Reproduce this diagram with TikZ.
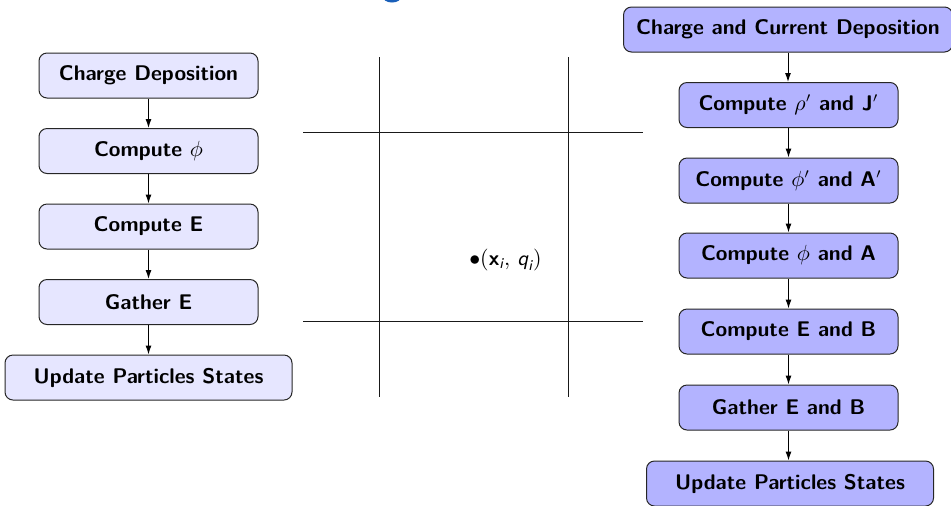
\documentclass[tikz,border=0pt]{standalone}
\usepackage{amsmath}
\usetikzlibrary{arrows.meta}
\definecolor{lightbox}{RGB}{230,230,255}
\definecolor{darkbox}{RGB}{179,179,255}
\definecolor{titleblue}{RGB}{25,95,185}
\newcommand{\sfit}[1]{\text{\sffamily\itshape #1}}
\tikzset{
  flowbox/.style={draw=black!85, rounded corners=4pt, line width=0.5pt,
    minimum width=109.5pt, minimum height=22.5pt, inner sep=2pt,
    font=\fontsize{10.6}{12}\selectfont\sffamily\bfseries, align=center},
  oldbox/.style={flowbox, fill=lightbox},
  newbox/.style={flowbox, fill=darkbox},
  flowarrow/.style={-{Latex[length=4.5pt,width=3pt]}, line width=0.5pt},
  gridline/.style={line width=0.5pt, draw=black!90}
}
\begin{document}
\begin{tikzpicture}[x=0.5pt, y=-0.5pt]
  \useasboundingbox (0,0) rectangle (951,505);
  % clipped title glyph at the top edge
  \begin{scope}
    \clip (0,0) rectangle (951,505);
    \fill[titleblue] (392,-3) ellipse [x radius=9, y radius=5.5];
  \end{scope}

  % electrostatic loop
  \node[oldbox] (l1) at (148.5,75.5) {Charge Deposition};
  \node[oldbox] (l2) at (148.5,151) {Compute $\phi$};
  \node[oldbox] (l3) at (148.5,226.5) {Compute E};
  \node[oldbox] (l4) at (148.5,302) {Gather E};
  \node[oldbox, minimum width=143.5pt] (l5) at (148.5,377.5) {Update Particles States};
  \foreach \a/\b in {l1/l2,l2/l3,l3/l4,l4/l5}
    \draw[flowarrow] (\a.south) -- (\a.south |- \b.north);

  % mesh cell with a particle
  \coordinate (v1t) at (379,57);  \coordinate (v1b) at (379,397);
  \coordinate (v2t) at (568,57);  \coordinate (v2b) at (568,397);
  \coordinate (h1l) at (303,132); \coordinate (h1r) at (643,132);
  \coordinate (h2l) at (303,321); \coordinate (h2r) at (643,321);
  \draw[gridline] (v1t) -- (v1b);
  \draw[gridline] (v2t) -- (v2b);
  \draw[gridline] (h1l) -- (h1r);
  \draw[gridline] (h2l) -- (h2r);
  \node[font=\fontsize{10.6}{12}\selectfont\sffamily] (p) at (505.5,260)
    {$\bullet(\textbf{\textsf{x}}_{\sfit{i}},\,\sfit{q}_{\sfit{i}})$};

  % electromagnetic loop
  \node[newbox, minimum width=164.5pt] (r1) at (788,29.5) {Charge and Current Deposition};
  \node[newbox] (r2) at (788.5,105) {Compute $\rho'$ and J$'$};
  \node[newbox] (r3) at (788.5,180.5) {Compute $\phi'$ and A$'$};
  \node[newbox] (r4) at (788.5,255.5) {Compute $\phi$ and A};
  \node[newbox] (r5) at (788.5,331.5) {Compute E and B};
  \node[newbox] (r6) at (788.5,407.5) {Gather E and B};
  \node[newbox, minimum width=143.5pt] (r7) at (790,483.5) {Update Particles States};
  \foreach \a/\b in {r1/r2,r2/r3,r3/r4,r4/r5,r5/r6,r6/r7}
    \draw[flowarrow] (\a.south) -- (\a.south |- \b.north);
\end{tikzpicture}
\end{document}
